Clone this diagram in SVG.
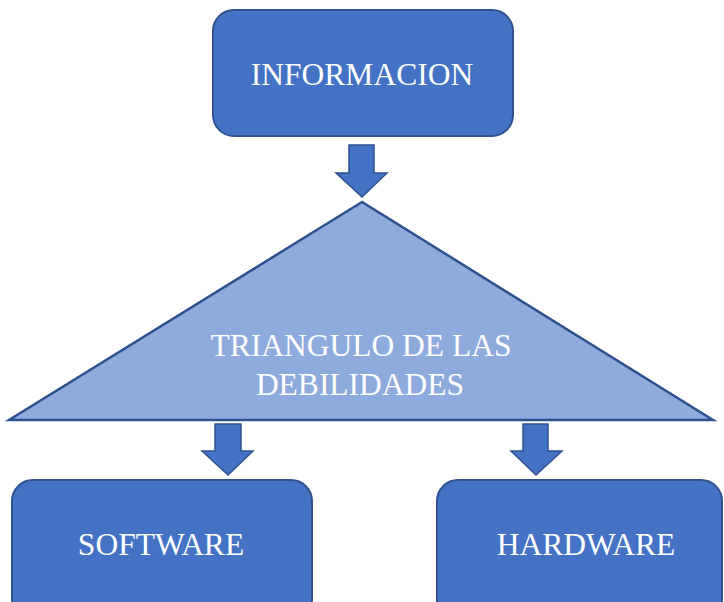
<svg xmlns="http://www.w3.org/2000/svg" width="724" height="602" viewBox="0 0 724 602">
<style>
.box{fill:#4472C4;stroke:#2F528F;stroke-width:2}
.tri{fill:#8FAADC;stroke:#2F528F;stroke-width:2.5;stroke-linejoin:miter}
.arr{fill:#4472C4;stroke:#2F528F;stroke-width:1.5;stroke-linejoin:miter}
.t{font-family:"Liberation Serif","Times New Roman",serif;font-size:31.5px;fill:#FFFFFF;text-anchor:middle}
</style>
<rect width="724" height="602" fill="#FFFFFF"/>
<g id="informacion">
<rect class="box" x="213" y="10" width="300" height="126" rx="21" ry="21"/>
<text class="t" x="362" y="85">INFORMACION</text>
</g>
<g id="triangulo">
<polygon class="tri" points="362,202 9,420 713,420"/>
<text class="t" x="361" y="356">TRIANGULO DE LAS</text>
<text class="t" x="360" y="395">DEBILIDADES</text>
</g>
<g id="software">
<rect class="box" x="12" y="480" width="300" height="140" rx="21" ry="21"/>
<text class="t" x="161" y="555">SOFTWARE</text>
</g>
<g id="hardware">
<rect class="box" x="437" y="480" width="285" height="140" rx="21" ry="21"/>
<text class="t" x="586" y="555">HARDWARE</text>
</g>
<g id="connectors">
<polygon class="arr" points="349,145 374,145 374,173 387,173 362,197 336,173 349,173"/>
<polygon class="arr" points="215,424 241,424 241,451 253,451 228,475 202,451 215,451"/>
<polygon class="arr" points="523,424 548,424 548,451 562,451 536,475 511,451 523,451"/>
</g>
</svg>
